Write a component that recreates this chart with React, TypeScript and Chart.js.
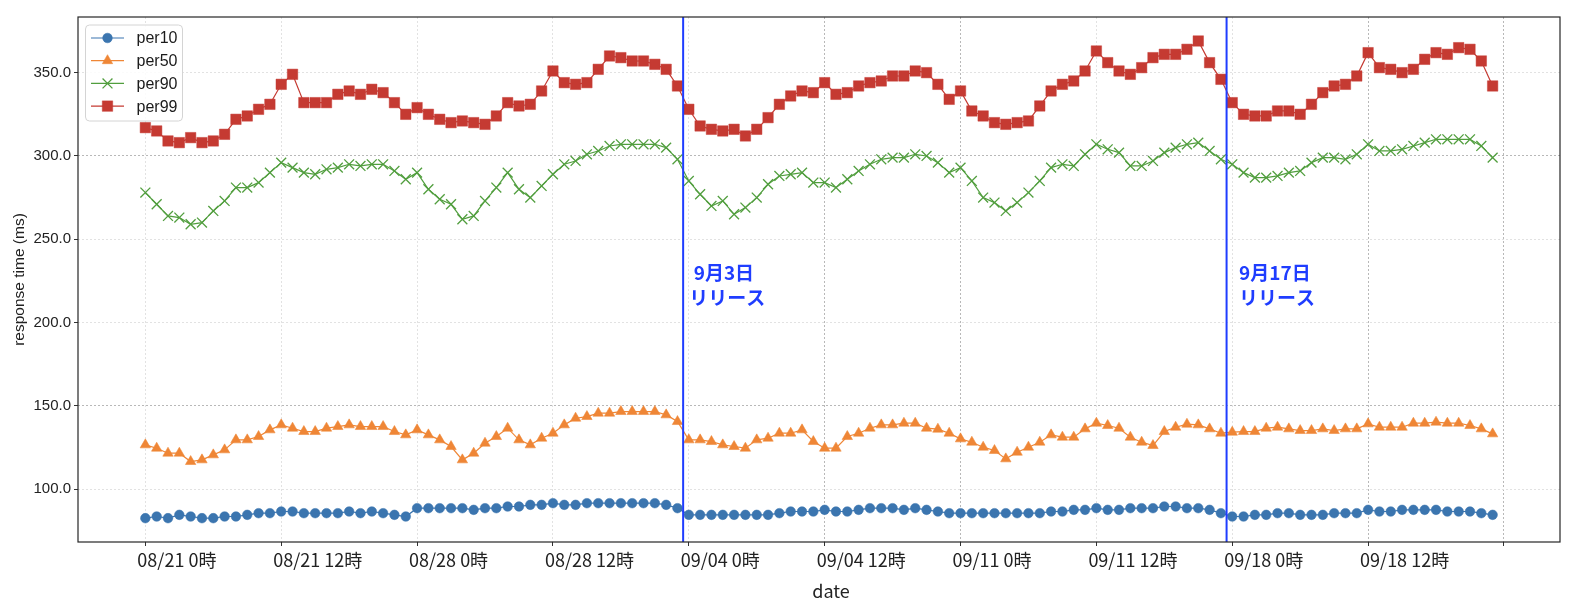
import React, { useEffect, useRef } from 'react';
import { Chart, registerables } from 'chart.js';

Chart.register(...registerables);

// ---- data (index = hourly sample, 0..119) ----
const per10 = [
  82.6, 83.6, 82.6, 84.6, 83.6, 82.6, 82.6, 83.6, 83.6, 84.6,
  85.6, 85.6, 86.6, 86.6, 85.6, 85.6, 85.6, 85.6, 86.6, 85.6,
  86.6, 85.6, 84.6, 83.6, 88.6, 88.6, 88.6, 88.6, 88.6, 87.6,
  88.6, 88.6, 89.6, 89.6, 90.6, 90.6, 91.6, 90.6, 90.6, 91.6,
  91.6, 91.6, 91.6, 91.6, 91.6, 91.6, 90.6, 88.6, 84.6, 84.6,
  84.6, 84.6, 84.6, 84.6, 84.6, 84.6, 85.6, 86.6, 86.6, 86.6,
  87.6, 86.6, 86.6, 87.6, 88.6, 88.6, 88.6, 87.6, 88.6, 87.6,
  86.6, 85.6, 85.6, 85.6, 85.6, 85.6, 85.6, 85.6, 85.6, 85.6,
  86.6, 86.6, 87.6, 87.6, 88.6, 87.6, 87.6, 88.6, 88.6, 88.6,
  89.6, 89.6, 88.6, 88.6, 87.6, 85.6, 83.6, 83.6, 84.6, 84.6,
  85.6, 85.6, 84.6, 84.6, 84.6, 85.6, 85.6, 85.6, 87.6, 86.6,
  86.6, 87.6, 87.6, 87.6, 87.6, 86.6, 86.6, 86.6, 85.6, 84.6,
];
const per50 = [
  126.6, 124.6, 121.6, 121.6, 116.6, 117.6, 120.6, 123.6, 129.6, 129.6,
  131.6, 135.6, 138.6, 136.6, 134.6, 134.6, 136.6, 137.6, 138.6, 137.6,
  137.6, 137.6, 134.6, 132.6, 135.6, 132.6, 129.6, 125.6, 117.6, 121.6,
  127.6, 131.6, 136.6, 129.6, 126.6, 130.6, 133.6, 138.6, 142.6, 143.6,
  145.6, 145.6, 146.6, 146.6, 146.6, 146.6, 144.6, 140.6, 129.6, 129.6,
  128.6, 126.6, 125.6, 124.6, 129.6, 130.6, 133.6, 133.6, 135.6, 128.6,
  124.6, 124.6, 131.6, 133.6, 136.6, 138.6, 138.6, 139.6, 139.6, 136.6,
  136.0, 133.6, 130.2, 128.2, 125.2, 123.2, 118.2, 122.2, 125.2, 128.2,
  132.6, 131.2, 131.2, 136.2, 139.6, 138.2, 136.6, 131.2, 128.2, 126.2,
  134.6, 137.2, 139.0, 138.6, 136.2, 133.6, 134.2, 134.6, 134.6, 136.6,
  137.2, 136.2, 135.2, 135.2, 136.2, 135.2, 136.2, 136.2, 139.2, 137.2,
  137.2, 137.2, 139.6, 139.6, 140.2, 139.6, 139.6, 138.2, 136.2, 133.2,
];
const per90 = [
  278, 271, 264, 263, 259, 260, 267, 273, 281, 281,
  284, 290, 296, 293, 290, 289, 292, 293, 295, 294,
  295, 295, 291, 286, 290, 280, 274, 271, 262, 264,
  273, 281, 290, 280, 275, 282, 289, 295, 297, 301,
  303, 306, 307, 307, 307, 307, 305, 298, 285, 277,
  270, 273, 265, 269, 275, 283, 288, 289, 290, 284,
  284, 281, 286, 291, 295, 298, 299, 299, 301, 300,
  296, 290, 293, 285, 275, 272, 267, 272, 278, 285,
  293, 295, 294, 301, 307, 304, 302, 294, 294, 297,
  302, 305, 307, 308, 303, 298, 295, 290, 287, 287,
  288, 290, 291, 296, 299, 299, 298, 301, 307, 303,
  303, 304, 306, 308, 310, 310, 310, 310, 306, 299,
];
const per99 = [
  317, 315, 309, 308, 311, 308, 309, 313, 322, 324,
  328, 331, 343, 349, 332, 332, 332, 337, 339, 337,
  340, 338, 332, 325, 329, 325, 322, 320, 321, 320,
  319, 324, 332, 330, 331, 339, 351, 344, 343, 344,
  352, 360, 359, 357, 357, 355, 352, 342, 328, 318,
  316, 315, 316, 312, 316, 323, 331, 336, 339, 338,
  344, 337, 338, 342, 344, 345, 348, 348, 351, 350,
  343, 334, 339, 327, 324, 320, 319, 320, 321, 330,
  339, 343, 345, 351, 363, 356, 351, 349, 353, 359,
  361, 361, 364, 369, 356, 346, 332, 325, 324, 324,
  327, 327, 325, 331, 338, 342, 343, 348, 362, 353,
  352, 350, 352, 358, 362, 361, 365, 364, 357, 342,
];

const seriesNames = ['per10', 'per50', 'per90', 'per99'];
const xTickLabels = [
  '08/21 0時', '08/21 12時', '08/28 0時', '08/28 12時', '09/04 0時',
  '09/04 12時', '09/11 0時', '09/11 12時', '09/18 0時', '09/18 12時',
];
const xTickValues = [0, 12, 24, 36, 48, 60, 72, 84, 96, 108, 120];
const yTickValues = [100, 150, 200, 250, 300, 350];
const releaseAt = [47.5, 95.5];
const releaseText = [[' 9月3日', 'リリース'], ['9月17日', 'リリース']];
const releaseTextX = [48.05, 96.6];
const releaseTextY = 229.8;

// ---- styles ----
const BLUE_LINE = '#1f3dff';
const styles = [
  { color: '#3b75af', edge: 'rgba(59,117,175,0.55)', point: 'circle', r: 4.8 },
  { color: '#ef8636', edge: 'rgba(239,134,54,0.55)', point: 'triangle', r: 6 },
  { color: '#519e3e', edge: '#519e3e', point: 'crossRot', r: 7 },
  { color: '#c53a32', edge: 'rgba(197,58,50,0.45)', point: 'rect', r: 7.4 },
];
const darkX = [60, 72, 108, 120];
const darkY = [150, 300];

function drawMarker(ctx: CanvasRenderingContext2D, kind: string, x: number, y: number, r: number, fill: string, edge: string) {
  ctx.save();
  ctx.beginPath();
  if (kind === 'circle') {
    ctx.arc(x, y, r, 0, Math.PI * 2);
  } else if (kind === 'triangle') {
    ctx.moveTo(x, y - r);
    ctx.lineTo(x + r * 0.866, y + r * 0.5);
    ctx.lineTo(x - r * 0.866, y + r * 0.5);
    ctx.closePath();
  } else if (kind === 'rect') {
    const s = r * Math.SQRT1_2;
    ctx.rect(x - s, y - s, 2 * s, 2 * s);
  } else if (kind === 'crossRot') {
    const s = r * Math.SQRT1_2;
    ctx.moveTo(x - s, y - s); ctx.lineTo(x + s, y + s);
    ctx.moveTo(x + s, y - s); ctx.lineTo(x - s, y + s);
  }
  if (kind !== 'crossRot') {
    ctx.fillStyle = fill;
    ctx.fill();
  }
  ctx.strokeStyle = edge;
  ctx.lineWidth = kind === 'crossRot' ? 1.3 : 1;
  ctx.stroke();
  ctx.restore();
}

const overlay = {
  id: 'overlay',
  afterDatasetsDraw(chart: any) {
    const { ctx, chartArea: a, scales } = chart;
    const x = scales.x, y = scales.y;
    ctx.save();
    ctx.strokeStyle = BLUE_LINE;
    ctx.lineWidth = 2;
    releaseAt.forEach((v, i) => {
      const px = x.getPixelForValue(v);
      ctx.beginPath();
      ctx.moveTo(px, a.top);
      ctx.lineTo(px, a.bottom);
      ctx.stroke();
      ctx.fillStyle = BLUE_LINE;
      ctx.font = 'bold 19px "Noto Sans CJK JP"';
      ctx.textAlign = 'left';
      ctx.textBaseline = 'middle';
      const tx = x.getPixelForValue(releaseTextX[i]);
      const ty = y.getPixelForValue(releaseTextY);
      releaseText[i].forEach((line, j) => ctx.fillText(line, tx, ty + j * 25));
    });
    ctx.restore();
  },
  afterDraw(chart: any) {
    const { ctx, chartArea: a, scales } = chart;
    const x = scales.x;
    ctx.save();
    // frame
    ctx.strokeStyle = '#262626';
    ctx.lineWidth = 1.2;
    ctx.strokeRect(a.left, a.top, a.right - a.left, a.bottom - a.top);

    // x tick labels
    ctx.fillStyle = '#222';
    ctx.font = '18px "Noto Sans CJK JP"';
    ctx.textAlign = 'left';
    ctx.textBaseline = 'middle';
    xTickLabels.forEach((lab, i) => {
      ctx.fillText(lab, x.getPixelForValue(xTickValues[i]) - 8, 560);
    });
    // axis titles
    ctx.textAlign = 'center';
    ctx.fillText('date', 831, 591);
    ctx.save();
    ctx.translate(19.5, (a.top + a.bottom) / 2);
    ctx.rotate(-Math.PI / 2);
    ctx.font = '15.5px "Liberation Sans"';
    ctx.fillText('response time (ms)', 0, 0);
    ctx.restore();

    // legend
    const bx = a.left + 7.5, by = a.top + 8, bw = 97, bh = 96;
    ctx.beginPath();
    ctx.roundRect(bx, by, bw, bh, 4);
    ctx.fillStyle = 'rgba(255,255,255,0.85)';
    ctx.fill();
    ctx.strokeStyle = '#d4d4d4';
    ctx.lineWidth = 1;
    ctx.stroke();
    ctx.font = '16px "Liberation Sans"';
    ctx.textAlign = 'left';
    ctx.textBaseline = 'middle';
    seriesNames.forEach((name, i) => {
      const s = styles[i];
      const yy = a.top + 21 + i * 22.7;
      ctx.strokeStyle = s.color;
      ctx.lineWidth = 1.2;
      ctx.beginPath();
      ctx.moveTo(a.left + 13, yy);
      ctx.lineTo(a.left + 46, yy);
      ctx.stroke();
      drawMarker(ctx, s.point, a.left + 29.5, yy, s.r, s.color, s.point === 'crossRot' ? s.color : s.edge);
      ctx.fillStyle = '#1a1a1a';
      ctx.fillText(name, a.left + 58.5, yy + 1);
    });
    ctx.restore();
  },
};

export default function App() {
  const ref = useRef<HTMLCanvasElement>(null);
  useEffect(() => {
    document.body.style.margin = '0';
    document.body.style.overflow = 'hidden';
    const canvas = ref.current!;
    const seriesData = [per10, per50, per90, per99];
    const chart = new Chart(canvas, {
      type: 'line',
      data: {
        datasets: seriesData.map((d, i) => ({
          label: seriesNames[i],
          data: d.map((v, k) => ({ x: k, y: v })),
          borderColor: styles[i].color,
          backgroundColor: styles[i].color,
          borderWidth: 1.2,
          pointStyle: styles[i].point as any,
          pointRadius: styles[i].r,
          pointBackgroundColor: styles[i].color,
          pointBorderColor: styles[i].edge,
          pointBorderWidth: styles[i].point === 'crossRot' ? 1.3 : 1,
          tension: 0,
        })),
      },
      options: {
        animation: false,
        responsive: false,
        devicePixelRatio: 1,
        layout: { padding: { top: 17, right: 14, bottom: 0, left: 0 } },
        plugins: { legend: { display: false }, tooltip: { enabled: false } },
        scales: {
          x: {
            type: 'linear',
            min: -5.95,
            max: 124.95,
            afterBuildTicks: (s: any) => { s.ticks = xTickValues.map((v) => ({ value: v })); },
            afterFit: (s: any) => { s.height = 68; },
            ticks: { display: false },
            grid: {
              color: (c: any) => (darkX.includes(c.tick?.value) ? '#b8b8b8' : '#e2e2e2'),
              lineWidth: 1,
              tickLength: 4,
              tickColor: '#333',
              tickWidth: 1,
            },
            border: { display: false, dash: [2, 2] },
          },
          y: {
            type: 'linear',
            min: 68.3,
            max: 383.4,
            afterBuildTicks: (s: any) => { s.ticks = yTickValues.map((v) => ({ value: v })); },
            afterFit: (s: any) => { s.width = 78; },
            ticks: {
              font: { family: '"Liberation Sans"', size: 15 },
              color: '#222',
              padding: 3,
              callback: (v: any) => Number(v).toFixed(1),
            },
            grid: {
              color: (c: any) => (darkY.includes(c.tick?.value) ? '#b8b8b8' : '#e2e2e2'),
              lineWidth: 1,
              tickLength: 4,
              tickColor: '#333',
              tickWidth: 1,
            },
            border: { display: false, dash: [2, 2] },
          },
        },
      },
      plugins: [overlay],
    });
    return () => chart.destroy();
  }, []);
  return (
    <div style={{ width: 1574, height: 610 }}>
      <canvas ref={ref} width={1574} height={610} style={{ display: 'block' }} />
    </div>
  );
}
